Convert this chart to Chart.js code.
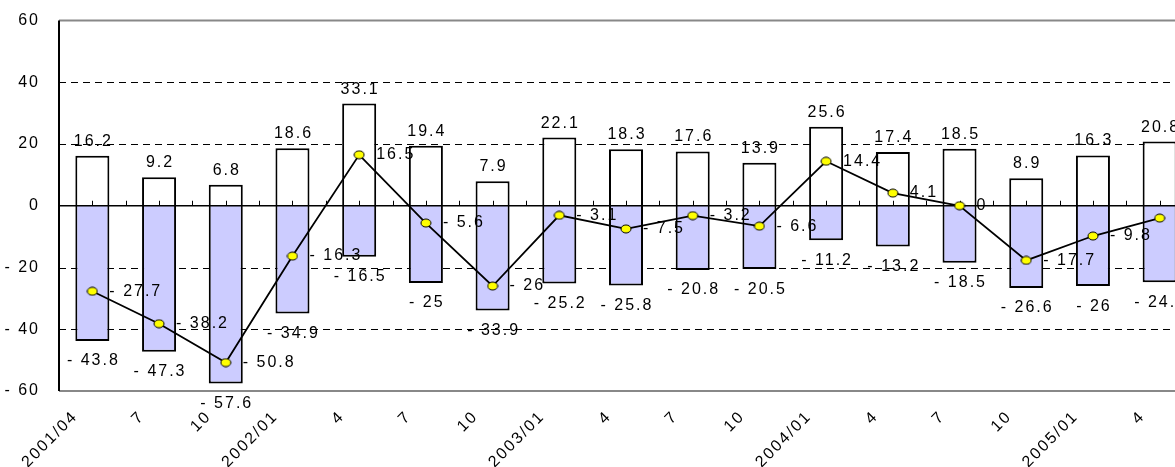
<!DOCTYPE html>
<html><head><meta charset="utf-8">
<script src="https://cdn.jsdelivr.net/npm/chart.js@4.4.1/dist/chart.umd.min.js"></script>
<style>
html,body{margin:0;padding:0;background:#fff;overflow:hidden;width:1175px;height:467px}
#wrap{width:1200px;height:467px}
</style></head><body>
<div id="wrap"><canvas id="c" width="1200" height="467" style="width:1200px;height:467px"></canvas></div>
<script>
const categories = ['2001/04','7','10','2002/01','4','7','10','2003/01','4','7','10','2004/01','4','7','10','2005/01','4'];
const positiveValues = [16.2,9.2,6.8,18.6,33.1,19.4,7.9,22.1,18.3,17.6,13.9,25.6,17.4,18.5,8.9,16.3,20.8];
const negativeValues = [-43.8,-47.3,-57.6,-34.9,-16.5,-25,-33.9,-25.2,-25.8,-20.8,-20.5,-11.2,-13.2,-18.5,-26.6,-26,-24.8];
const netValues = [-27.7,-38.2,-50.8,-16.3,16.5,-5.6,-26,-3.1,-7.5,-3.2,-6.6,14.4,4.1,0,-17.7,-9.8,-4.0];
const yTicks = [-60,-40,-20,0,20,40,60];

const FONT = '"Liberation Sans", Arial, sans-serif';
const LS = '2px';
const fmt = v => v < 0 ? '- ' + String(Math.abs(v)) : String(v);

// elliptical yellow marker
const marker = document.createElement('canvas');
marker.width = 12; marker.height = 10;
(function(){
  const m = marker.getContext('2d');
  m.beginPath(); m.ellipse(6,5,5,4,0,0,Math.PI*2);
  m.fillStyle = '#FFFF00'; m.fill();
  m.lineWidth = 1; m.strokeStyle = '#000'; m.stroke();
})();

const spacingPlugin = {
  id: 'spacing',
  beforeLayout(chart){ chart.ctx.letterSpacing = LS; },
  beforeDraw(chart){ chart.ctx.letterSpacing = LS; }
};

const framePlugin = {
  id: 'frame',
  beforeDatasetsDraw(chart){
    const {ctx, chartArea:a, scales:{x, y}} = chart;
    ctx.save();
    ctx.strokeStyle = '#000'; ctx.lineWidth = 1; ctx.setLineDash([7,5]);
    yTicks.forEach(t => {
      if (t === 0 || t === yTicks[0] || t === yTicks[yTicks.length-1]) return;
      const py = Math.round(y.getPixelForValue(t)) + 0.5;
      ctx.beginPath(); ctx.moveTo(a.left, py); ctx.lineTo(a.right, py); ctx.stroke();
    });
    ctx.setLineDash([]);
    ctx.strokeStyle = '#888'; ctx.lineWidth = 2;
    [yTicks[0], yTicks[yTicks.length-1]].forEach(t => {
      const py = y.getPixelForValue(t);
      ctx.beginPath(); ctx.moveTo(a.left, py); ctx.lineTo(a.right, py); ctx.stroke();
    });
    ctx.strokeStyle = '#000'; ctx.lineWidth = 2;
    ctx.beginPath(); ctx.moveTo(a.left, y.getPixelForValue(yTicks[yTicks.length-1])); ctx.lineTo(a.left, y.getPixelForValue(yTicks[0])); ctx.stroke();
    // category labels, rotated 45 degrees
    ctx.letterSpacing = LS;
    ctx.font = '16px ' + FONT;
    ctx.fillStyle = '#000';
    ctx.textAlign = 'right'; ctx.textBaseline = 'middle';
    categories.forEach((c, i) => {
      const px = x.getPixelForValue(i);
      ctx.save();
      ctx.translate(px - 17, a.bottom + 23);
      ctx.rotate(-Math.PI / 4);
      ctx.fillText(c, 0, 0);
      ctx.restore();
    });
    ctx.restore();
  },
  beforeDatasetDraw(chart, args){
    if (args.meta.type !== 'line') return;
    const {ctx, chartArea:a, scales:{x, y}} = chart;
    const z = y.getPixelForValue(0);
    ctx.save();
    ctx.strokeStyle = '#000'; ctx.lineWidth = 1.5;
    ctx.beginPath(); ctx.moveTo(a.left, z); ctx.lineTo(a.right, z); ctx.stroke();
    ctx.lineWidth = 1;
    const half = (x.getPixelForValue(1) - x.getPixelForValue(0)) / 2;
    categories.forEach((c, i) => {
      const cx = x.getPixelForValue(i);
      [cx, cx + half].forEach(px => {
        const p = Math.round(px) + 0.5;
        ctx.beginPath(); ctx.moveTo(p, z); ctx.lineTo(p, z - 5); ctx.stroke();
      });
    });
    ctx.restore();
  },
  afterDatasetsDraw(chart){
    const {ctx} = chart;
    ctx.save();
    ctx.letterSpacing = LS;
    ctx.font = '16px ' + FONT;
    ctx.fillStyle = '#000';
    const pos = chart.getDatasetMeta(0).data;
    const neg = chart.getDatasetMeta(1).data;
    const net = chart.getDatasetMeta(2).data;
    ctx.textAlign = 'center'; ctx.textBaseline = 'alphabetic';
    pos.forEach((el, i) => ctx.fillText(fmt(positiveValues[i]), el.x + 1, el.y - 10));
    neg.forEach((el, i) => ctx.fillText(fmt(negativeValues[i]), el.x + 1, el.y + 24.5));
    ctx.textAlign = 'left'; ctx.textBaseline = 'middle';
    net.forEach((el, i) => ctx.fillText(fmt(netValues[i]), el.x + 17, el.y));
    ctx.restore();
  }
};

new Chart(document.getElementById('c'), {
  data: {
    labels: categories,
    datasets: [
      { type:'bar', label:'positive', data: positiveValues, backgroundColor:'#FFFFFF', borderColor:'#000', borderWidth:2, borderSkipped:'start', barPercentage:0.51, categoryPercentage:1, order:1 },
      { type:'bar', label:'negative', data: negativeValues, backgroundColor:'#CCCCFF', borderColor:'#000', borderWidth:2, borderSkipped:'start', barPercentage:0.51, categoryPercentage:1, order:1 },
      { type:'line', label:'net', data: netValues, borderColor:'#000', borderWidth:1.8, pointStyle: marker, pointRadius:5, tension:0, order:0 }
    ]
  },
  options: {
    responsive:false, animation:false, devicePixelRatio:1,
    layout:{ padding:{ top:20.5, right:7, left:0, bottom:0 } },
    plugins:{ legend:{display:false}, tooltip:{enabled:false} },
    scales:{
      x:{ stacked:true, grid:{display:false, drawTicks:false}, border:{display:false},
          afterFit(s){ s.height = 76; s.paddingLeft = 0; s.paddingRight = 0; },
          ticks:{ display:false } },
      y:{ min:yTicks[0], max:yTicks[yTicks.length-1], grid:{display:false, drawTicks:false}, border:{display:false},
          afterFit(s){ s.width = 59; s.paddingTop = 0; s.paddingBottom = 0; },
          afterBuildTicks(s){ s.ticks = yTicks.map(v => ({value:v})); },
          ticks:{ padding:19, color:'#000', font:{family:FONT, size:16}, callback: v => fmt(v) } }
    }
  },
  plugins:[spacingPlugin, framePlugin]
});
</script>
</body></html>
